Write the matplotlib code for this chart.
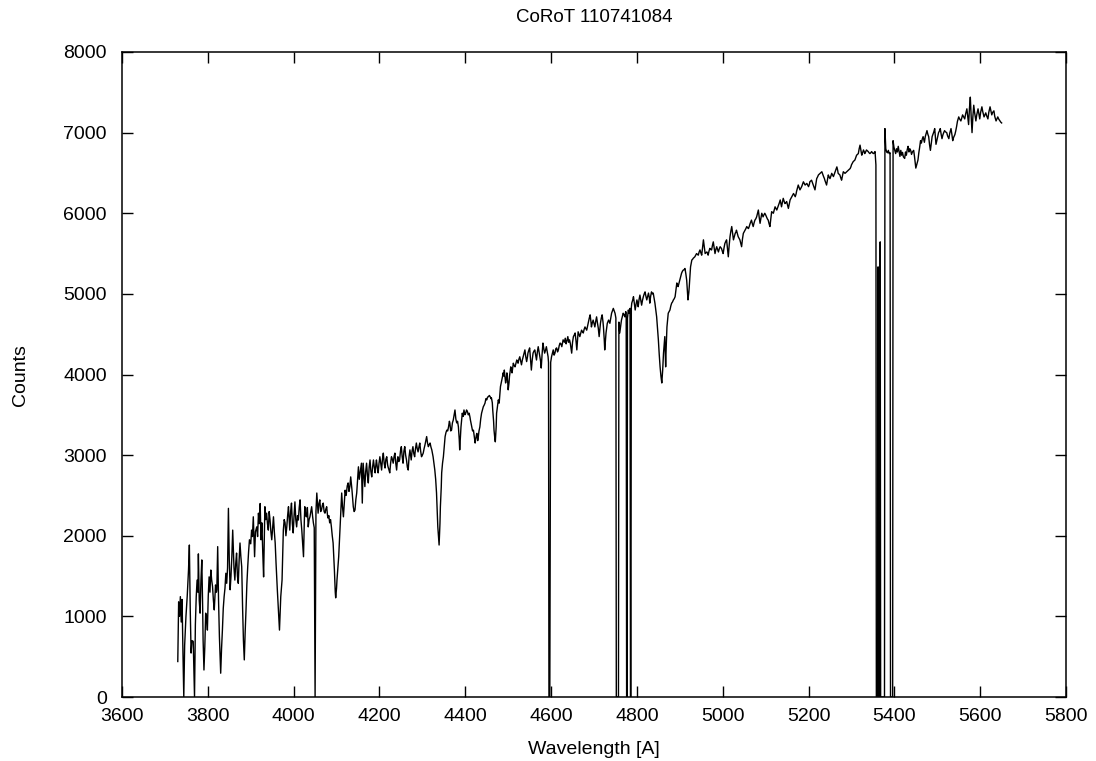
import matplotlib
matplotlib.use("Agg")
import matplotlib.pyplot as plt

plt.rcParams['font.family'] = ['Liberation Sans', 'DejaVu Sans']

# spectrum of CoRoT 110741084, (wavelength [A], counts) pairs, blue to red
blueEnd = [
    (3730, 440), (3732, 1180), (3734, 1000), (3736, 1245), (3738, 930), (3740, 1210),
    (3742, 560), (3744, 0), (3746, 640), (3749, 995), (3752, 1250), (3755, 1575),
    (3757, 1885), (3759, 1100), (3761, 545), (3763, 700), (3766, 690), (3769, 0),
    (3771, 900), (3773, 1245), (3775, 1450), (3777, 1300), (3778, 1775), (3780, 1200),
    (3782, 1040), (3784, 1450), (3786, 1700), (3788, 1100), (3789, 705), (3791, 335),
    (3793, 625), (3795, 1040), (3797, 1000), (3799, 830), (3801, 1250), (3803, 1490),
    (3805, 1300), (3807, 1575), (3809, 1450), (3811, 1370), (3813, 1200), (3815, 1080),
    (3817, 1300), (3818, 1390), (3820, 1300), (3821, 1330), (3823, 1865), (3825, 1200),
    (3827, 750), (3830, 295), (3832, 600), (3834, 830), (3836, 1100), (3838, 1245),
    (3840, 1350), (3842, 1535), (3844, 1410), (3846, 1600), (3848, 2340), (3850, 1700),
    (3852, 1330), (3854, 1500), (3856, 1740), (3858, 2070), (3861, 1600), (3863, 1450),
    (3865, 1650), (3867, 1785), (3869, 1500), (3871, 1410), (3873, 1700), (3875, 1910),
    (3877, 1740), (3879, 1615), (3881, 1115), (3883, 700), (3885, 460), (3887, 800),
    (3889, 1080), (3891, 1400), (3893, 1615), (3895, 1800), (3897, 1950), (3900, 1900),
    (3902, 2070), (3904, 1990), (3906, 2235), (3908, 1900), (3909, 1740), (3911, 2050),
    (3914, 2110), (3916, 1990), (3918, 2280), (3920, 2150), (3922, 2400), (3924, 1950),
    (3926, 2160),
]

balmerRegion = [
    (3928, 1800), (3930, 1490), (3933, 2360), (3935, 2200), (3937, 2280), (3939, 2150),
    (3941, 2070), (3943, 2300), (3945, 2195), (3947, 2050), (3949, 1950), (3951, 2100),
    (3953, 2235), (3955, 2050), (3957, 1910), (3959, 1660), (3962, 1330), (3965, 1040),
    (3967, 830), (3970, 1245), (3973, 1450), (3976, 2070), (3978, 2200), (3980, 2160),
    (3982, 2000), (3984, 2110), (3986, 2250), (3988, 2360), (3990, 2150), (3991, 2070),
    (3993, 2300), (3995, 2405), (3997, 2150), (3999, 2035), (4001, 2250), (4003, 2420),
    (4005, 2200), (4007, 2110), (4009, 2250), (4011, 2195), (4013, 2350), (4015, 2445),
    (4017, 2200), (4019, 2070), (4021, 1900), (4023, 1740), (4025, 2200), (4026, 2360),
    (4028, 2250), (4030, 2235), (4032, 2350), (4034, 2110), (4036, 2200), (4038, 2235),
    (4040, 2300), (4042, 2360), (4044, 2250), (4046, 2160), (4048, 2100), (4050, 0),
    (4052, 2300), (4054, 2530), (4056, 2350), (4057, 2280), (4059, 2400), (4061, 2445),
    (4063, 2300), (4065, 2320), (4067, 2380), (4069, 2405), (4071, 2300), (4073, 2280),
    (4075, 2330), (4077, 2360), (4079, 2250), (4080, 2220), (4082, 2250), (4084, 2160),
    (4086, 2200), (4088, 2110), (4090, 2000), (4092, 1910), (4095, 1575), (4097, 1300),
    (4098, 1230), (4100, 1350), (4101, 1450), (4103, 1600), (4105, 1740), (4108, 2070),
    (4110, 2300), (4112, 2530), (4114, 2350), (4116, 2235), (4118, 2400), (4120, 2565),
    (4122, 2500), (4123, 2530), (4125, 2620), (4127, 2655), (4129, 2550), (4131, 2610),
    (4133, 2730), (4136, 2565), (4139, 2360), (4141, 2300), (4143, 2320), (4145, 2450),
    (4147, 2530),
]

hgammaRegion = [
    (4149, 2700), (4151, 2855), (4153, 2700), (4155, 2780), (4158, 2900), (4160, 2405),
    (4162, 2900), (4164, 2750), (4166, 2610), (4168, 2800), (4170, 2900), (4172, 2750),
    (4174, 2655), (4176, 2850), (4178, 2940), (4180, 2800), (4182, 2730), (4184, 2850),
    (4186, 2940), (4188, 2850), (4190, 2780), (4192, 2900), (4193, 2940), (4195, 2850),
    (4197, 2780), (4199, 2900), (4201, 2980), (4203, 2900), (4205, 2815), (4207, 2950),
    (4209, 3025), (4211, 2900), (4213, 2840), (4215, 2950), (4217, 2980), (4219, 2880),
    (4220, 2855), (4222, 2820), (4224, 2780), (4226, 2900), (4228, 2980), (4230, 2950),
    (4232, 2900), (4234, 2980), (4236, 3025), (4238, 2900), (4240, 2815), (4242, 2950),
    (4243, 2980), (4245, 2920), (4247, 2940), (4249, 3050), (4251, 3105), (4253, 2980),
    (4255, 2900), (4257, 3050), (4259, 3105), (4261, 3000), (4263, 2940), (4265, 2850),
    (4267, 2815), (4269, 2980), (4271, 3065), (4273, 2980), (4274, 2940), (4276, 3050),
    (4278, 3105), (4280, 3020), (4282, 2980), (4284, 3080), (4286, 3150), (4288, 3080),
    (4290, 3040), (4292, 3100), (4294, 3150), (4296, 3050), (4298, 2980), (4300, 3000),
    (4302, 3025), (4304, 3080), (4306, 3125), (4308, 3180), (4310, 3230), (4312, 3150),
    (4314, 3105), (4316, 3130), (4318, 3150), (4320, 3100), (4322, 3065), (4325, 2980),
    (4327, 2900), (4329, 2815), (4331, 2700), (4333, 2530), (4335, 2250), (4336, 2110),
    (4338, 1950), (4339, 1885), (4341, 2150), (4342, 2360), (4344, 2600), (4345, 2780),
    (4347, 2900), (4349, 2980), (4351, 3100), (4353, 3230), (4355, 3280), (4357, 3310),
    (4359, 3300), (4361, 3350), (4363, 3420), (4364, 3400), (4366, 3300), (4368, 3310),
    (4370, 3400), (4372, 3435), (4374, 3500), (4376, 3560), (4378, 3450), (4380, 3400),
    (4382, 3420), (4384, 3350), (4386, 3190), (4387, 3065), (4389, 3250), (4390, 3350),
]

heliumRegion = [
    (4393, 3520), (4395, 3480), (4397, 3560), (4399, 3500), (4401, 3520), (4403, 3560),
    (4405, 3540), (4407, 3500), (4409, 3520), (4411, 3470), (4412, 3435), (4414, 3380),
    (4415, 3350), (4417, 3300), (4419, 3310), (4421, 3230), (4423, 3150), (4424, 3190),
    (4426, 3250), (4427, 3270), (4429, 3180), (4430, 3210), (4432, 3300), (4434, 3350),
    (4436, 3450), (4438, 3520), (4440, 3560), (4442, 3600), (4444, 3620), (4446, 3645),
    (4448, 3700), (4450, 3685), (4452, 3720), (4454, 3725), (4456, 3740), (4458, 3725),
    (4460, 3700), (4461, 3710), (4463, 3650), (4464, 3560), (4466, 3420), (4467, 3310),
    (4469, 3200), (4470, 3165), (4472, 3350), (4473, 3520), (4475, 3600), (4477, 3685),
    (4479, 3645), (4481, 3780), (4482, 3850), (4484, 3900), (4485, 3930), (4487, 3980),
    (4488, 4020), (4490, 3980), (4491, 4055), (4493, 3950), (4494, 3895), (4496, 3960),
    (4497, 4020), (4499, 3900), (4500, 3810), (4502, 3900), (4503, 3975), (4505, 4050),
    (4506, 4095), (4508, 4050), (4509, 4020), (4511, 4100), (4512, 4140), (4514, 4110),
    (4516, 4095), (4518, 4140), (4520, 4180), (4522, 4160), (4523, 4140), (4525, 4190),
    (4527, 4220), (4529, 4170), (4531, 4120), (4533, 4180), (4535, 4220), (4537, 4260),
    (4539, 4305), (4541, 4220), (4543, 4160), (4545, 4220), (4546, 4265), (4548, 4300),
    (4550, 4330), (4552, 4200), (4554, 4055), (4556, 4180), (4558, 4265), (4560, 4290),
    (4562, 4305), (4564, 4240), (4566, 4180), (4568, 4280), (4570, 4345), (4572, 4280),
    (4574, 4220), (4576, 4150), (4577, 4080), (4579, 4250), (4581, 4390), (4583, 4320),
    (4585, 4265), (4587, 4300), (4589, 4345), (4591, 4280), (4593, 4220), (4594, 4150),
    (4595, 0), (4597, 0), (4599, 4150), (4601, 4220), (4603, 4260), (4605, 4305),
    (4607, 4240), (4609, 4265), (4611, 4320), (4613, 4330), (4615, 4280), (4617, 4305),
    (4619, 4360), (4621, 4390), (4623, 4380), (4625, 4345), (4627, 4400), (4628, 4430),
]

hbetaRegion = [
    (4631, 4400), (4633, 4450), (4635, 4380), (4637, 4420), (4639, 4470), (4641, 4400),
    (4643, 4430), (4645, 4380), (4647, 4300), (4648, 4265), (4650, 4400), (4652, 4470),
    (4654, 4490), (4656, 4515), (4658, 4420), (4660, 4305), (4662, 4450), (4663, 4530),
    (4665, 4500), (4667, 4470), (4669, 4510), (4671, 4550), (4673, 4530), (4675, 4515),
    (4677, 4560), (4679, 4590), (4681, 4570), (4683, 4550), (4685, 4600), (4687, 4655),
    (4689, 4700), (4691, 4740), (4693, 4650), (4694, 4590), (4696, 4640), (4698, 4675),
    (4700, 4630), (4702, 4590), (4704, 4660), (4706, 4715), (4708, 4640), (4710, 4575),
    (4712, 4470), (4714, 4580), (4715, 4635), (4717, 4700), (4719, 4740), (4721, 4650),
    (4722, 4590), (4724, 4420), (4725, 4305), (4727, 4450), (4728, 4515), (4730, 4600),
    (4731, 4635), (4733, 4660), (4734, 4675), (4736, 4650), (4737, 4635), (4739, 4700),
    (4741, 4760), (4743, 4790), (4745, 4820), (4747, 4790), (4749, 4760), (4751, 4700),
    (4752, 0), (4757, 0), (4758, 4650), (4760, 4515), (4762, 4600), (4764, 4675),
    (4766, 4720), (4768, 4760), (4770, 4740), (4772, 4715), (4774, 4780), (4775, 4750),
    (4776, 0), (4777, 0), (4778, 4700), (4780, 4800), (4782, 4760), (4784, 4820),
    (4785, 0), (4786, 0), (4787, 4830), (4788, 4885), (4790, 4920), (4792, 4965),
    (4794, 4880), (4796, 4800), (4798, 4870), (4800, 4925), (4802, 4880), (4803, 4840),
    (4805, 4930), (4807, 4985), (4809, 4920), (4811, 4860), (4813, 4920), (4815, 4965),
    (4817, 5000), (4819, 5025), (4821, 4970), (4823, 4925), (4825, 4970), (4827, 5010),
    (4829, 4950), (4830, 4885), (4832, 4970), (4834, 5025), (4836, 5000), (4838, 5010),
    (4840, 4950), (4842, 4885), (4844, 4800), (4846, 4715), (4848, 4580), (4850, 4430),
    (4852, 4250), (4854, 4095), (4856, 3980), (4858, 3895), (4860, 4050), (4862, 4265),
    (4864, 4400), (4865, 4470), (4867, 4095), (4868, 4300), (4870, 4590), (4872, 4700),
    (4873, 4760), (4875, 4780), (4877, 4800), (4879, 4850), (4881, 4885), (4883, 4900),
    (4885, 4925), (4887, 4940), (4889, 4965), (4891, 5050), (4893, 5135), (4895, 5110),
    (4896, 5090), (4898, 5130), (4900, 5170),
]

greenRegion = [
    (4902, 5210), (4904, 5255), (4906, 5280), (4908, 5295), (4910, 5300), (4912, 5315),
    (4914, 5250), (4916, 5170), (4918, 5000), (4919, 4925), (4921, 5020), (4922, 5090),
    (4924, 5250), (4925, 5335), (4927, 5390), (4928, 5420), (4930, 5430), (4931, 5440),
    (4933, 5450), (4935, 5460), (4937, 5480), (4939, 5500), (4941, 5490), (4943, 5480),
    (4945, 5520), (4947, 5545), (4949, 5510), (4951, 5480), (4953, 5580), (4955, 5670),
    (4957, 5580), (4959, 5500), (4961, 5510), (4963, 5520), (4965, 5500), (4966, 5480),
    (4968, 5530), (4970, 5565), (4972, 5550), (4974, 5545), (4976, 5600), (4978, 5645),
    (4980, 5570), (4982, 5500), (4984, 5550), (4986, 5585), (4988, 5550), (4990, 5520),
    (4992, 5560), (4994, 5585), (4996, 5570), (4997, 5565), (4999, 5530), (5001, 5500),
    (5003, 5570), (5005, 5625), (5007, 5650), (5009, 5670), (5011, 5560), (5013, 5460),
    (5015, 5600), (5017, 5710), (5019, 5780), (5021, 5835), (5023, 5750), (5025, 5670),
    (5027, 5710), (5029, 5750), (5031, 5770), (5032, 5790), (5034, 5750), (5036, 5710),
    (5038, 5690), (5040, 5670), (5042, 5630), (5044, 5585), (5046, 5680), (5048, 5750),
    (5050, 5770), (5052, 5790), (5054, 5810), (5056, 5835), (5058, 5820), (5060, 5810),
    (5062, 5840), (5064, 5875), (5066, 5900), (5067, 5915), (5069, 5870), (5071, 5835),
    (5073, 5880), (5075, 5915), (5077, 5930), (5079, 5955), (5081, 6000), (5083, 6040),
    (5085, 5950), (5087, 5875), (5089, 5940), (5091, 6000), (5093, 5970), (5094, 5955),
    (5096, 5980), (5098, 6000), (5100, 5980), (5102, 5955), (5104, 5930), (5106, 5915),
    (5108, 5870), (5110, 5835), (5112, 5930), (5114, 6020), (5116, 6010), (5118, 6000),
    (5120, 6040), (5122, 6080), (5124, 6060), (5126, 6040), (5128, 6070), (5130, 6100),
    (5132, 6130), (5134, 6165), (5136, 6110), (5137, 6080), (5139, 6130), (5141, 6185),
    (5143, 6150), (5145, 6120), (5147, 6130), (5149, 6145), (5151, 6100), (5153, 6060),
    (5155, 6110), (5157, 6165), (5159, 6185), (5161, 6205), (5163, 6225), (5165, 6245),
    (5167, 6225), (5169, 6205), (5171, 6240), (5172, 6270), (5174, 6310), (5176, 6350),
    (5178, 6320), (5180, 6290), (5182, 6310), (5184, 6330), (5186, 6360), (5188, 6390),
    (5190, 6370), (5192, 6350), (5194, 6360), (5196, 6370), (5198, 6350), (5200, 6330),
    (5202, 6360), (5203, 6390), (5205, 6400), (5207, 6410), (5209, 6380), (5211, 6350),
    (5213, 6320), (5215, 6290), (5217, 6360), (5219, 6430), (5221, 6450), (5223, 6475),
    (5225, 6485), (5227, 6495), (5229, 6505), (5231, 6515), (5233, 6485), (5235, 6455),
    (5237, 6430), (5238, 6410), (5240, 6380), (5242, 6350), (5244, 6410), (5246, 6475),
    (5248, 6450), (5250, 6430), (5252, 6460), (5254, 6495), (5256, 6475), (5258, 6455),
    (5260, 6485), (5262, 6515), (5264, 6545), (5266, 6575), (5268, 6530), (5269, 6495),
    (5271, 6485), (5273, 6475), (5275, 6440), (5277, 6410), (5279, 6460), (5281, 6515),
    (5283, 6505), (5285, 6495), (5287, 6505), (5289, 6515), (5291, 6525), (5293, 6535),
    (5295, 6545), (5297, 6555), (5299, 6580), (5300, 6600), (5302, 6620), (5304, 6640),
    (5306, 6650), (5308, 6660), (5310, 6690), (5312, 6720), (5314, 6730), (5316, 6740),
    (5318, 6800), (5320, 6845), (5322, 6780), (5324, 6720), (5326, 6750), (5328, 6785),
    (5330, 6760), (5331, 6740), (5333, 6760), (5335, 6785), (5337, 6775), (5339, 6765),
    (5341, 6750), (5343, 6740), (5345, 6750), (5347, 6765), (5349, 6750), (5351, 6740),
    (5353, 6750), (5355, 6765), (5357, 6600),
]

# bad columns around 5360-5400 plus the red end with the 5577 sky line
redEnd = [
    (5358, 0), (5361, 0), (5362, 5335), (5363, 0), (5366, 0), (5367, 5645),
    (5368, 0), (5377, 0), (5378, 7050), (5380, 6800), (5382, 6760), (5384, 6750),
    (5386, 6780), (5388, 6740), (5390, 6750), (5391, 0), (5396, 0), (5397, 6900),
    (5399, 6820), (5401, 6780), (5403, 6740), (5405, 6800), (5407, 6760), (5409, 6830),
    (5411, 6770), (5413, 6705), (5415, 6780), (5417, 6720), (5419, 6755), (5421, 6700),
    (5424, 6680), (5426, 6760), (5428, 6720), (5430, 6790), (5432, 6830), (5434, 6760),
    (5436, 6800), (5438, 6780), (5440, 6730), (5442, 6760), (5445, 6780), (5447, 6700),
    (5450, 6560), (5452, 6600), (5455, 6660), (5457, 6750), (5459, 6820), (5461, 6900),
    (5463, 6870), (5465, 6920), (5467, 6950), (5469, 6900), (5470, 6880), (5472, 6950),
    (5474, 6990), (5476, 7025), (5478, 6980), (5480, 6950), (5482, 6850), (5484, 6780),
    (5486, 6870), (5488, 6950), (5490, 6980), (5492, 7010), (5494, 7050), (5496, 6920),
    (5497, 6855), (5499, 6900), (5501, 6950), (5503, 7000), (5505, 7020), (5507, 7050),
    (5509, 6980), (5511, 6925), (5513, 6970), (5515, 7000), (5517, 7025), (5519, 7010),
    (5522, 7000), (5524, 6960), (5527, 6925), (5529, 6990), (5532, 7050), (5534, 6980),
    (5536, 6900), (5538, 6940), (5541, 6975), (5543, 7020), (5545, 7075), (5547, 7140),
    (5550, 7195), (5552, 7170), (5555, 7145), (5557, 7180), (5559, 7220), (5562, 7190),
    (5564, 7170), (5566, 7230), (5569, 7295), (5571, 7200), (5573, 7100), (5575, 7300),
    (5577, 7440), (5579, 7200), (5581, 7000), (5583, 7200), (5585, 7340), (5587, 7250),
    (5590, 7145), (5592, 7220), (5595, 7295), (5597, 7230), (5599, 7170), (5601, 7250),
    (5604, 7320), (5606, 7260), (5609, 7195), (5611, 7220), (5613, 7245), (5615, 7210),
    (5618, 7170), (5620, 7250), (5623, 7320), (5625, 7270), (5627, 7220), (5629, 7250),
    (5632, 7270), (5634, 7200), (5637, 7145), (5639, 7170), (5641, 7195), (5643, 7170),
    (5646, 7145), (5648, 7130), (5650, 7120),
]

xTicks = [3600, 3800, 4000, 4200, 4400, 4600, 4800, 5000, 5200, 5400, 5600, 5800]
yTicks = [0, 1000, 2000, 3000, 4000, 5000, 6000, 7000, 8000]

spectrum = blueEnd + balmerRegion + hgammaRegion + heliumRegion + hbetaRegion + greenRegion + redEnd
wave = [p[0] for p in spectrum]
counts = [p[1] for p in spectrum]

fig = plt.figure(figsize=(10.96, 7.61), dpi=100, facecolor="white")
ax = fig.add_axes([122/1096., 1-697/761., 944/1096., 645/761.])
ax.plot(wave, counts, color="black", lw=1.0)

ax.set_xlim(3600, 5800)
ax.set_ylim(0, 8000)
ax.set_xticks(xTicks)
ax.set_yticks(yTicks)
ax.tick_params(direction="in", length=8, width=1, top=True, right=True, labelsize=14)
ax.tick_params(axis="y", pad=11)
ax.tick_params(axis="x", pad=8)
for s in ax.spines.values():
    s.set_linewidth(1.1)

fig.text(594/1096., 1-17/761., "CoRoT 110741084", ha="center", va="center", fontsize=13.5)
fig.text(594/1096., 1-750/761., "Wavelength [A]", ha="center", va="center", fontsize=14)
fig.text(20/1096., 1-375/761., "Counts", ha="center", va="center", rotation=90, fontsize=14)

fig.savefig("out.png", dpi=100, facecolor="white")
